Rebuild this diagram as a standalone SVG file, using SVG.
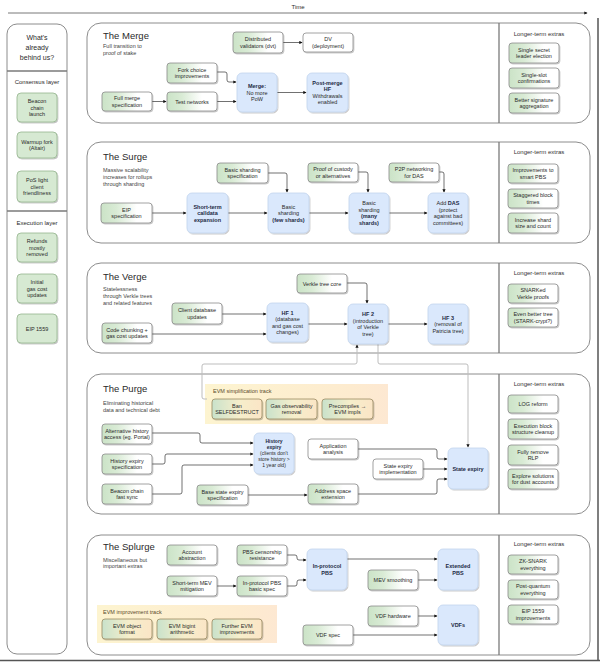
<svg xmlns="http://www.w3.org/2000/svg" width="600" height="662" viewBox="0 0 600 662">
<defs>
<style>
text{font-family:"Liberation Sans",Arial,sans-serif;fill:#2a2a2a}
.t{font-size:5.5px;text-anchor:middle}
.tb{font-size:5.5px;text-anchor:middle;font-weight:bold;fill:#1c2a44}
.ttl{font-size:9.5px}
.sub{font-size:5.5px;fill:#444}
.ext{font-size:6px;text-anchor:middle;fill:#333}
.sec{fill:#fff;stroke:#8c8c8c;stroke-width:1}
.div{stroke:#7a7a7a;stroke-width:1.3}
.ng{fill:url(#gG);stroke:#8a8a8a;stroke-width:0.8;filter:url(#sh)}
.nw{fill:#fff;stroke:#8a8a8a;stroke-width:0.8;filter:url(#sh)}
.nb{fill:#dae8fc;stroke:#c2d4ee;stroke-width:0.8;filter:url(#sh)}
.nl{fill:#d6e9d2;stroke:#94b48e;stroke-width:0.8;filter:url(#sh)}
.nt{fill:url(#gT);stroke:#9a8a63;stroke-width:0.8;filter:url(#sh)}
.trk{fill:url(#gY);stroke:none}
.c{fill:none;stroke:#333;stroke-width:0.7;marker-end:url(#ar)}
.cl{fill:none;stroke:#bdbdbd;stroke-width:1;marker-end:url(#ar)}
</style>
<linearGradient id="gG" x1="0" x2="1" y1="0" y2="0">
<stop offset="0" stop-color="#cbe3c7"/><stop offset="0.3" stop-color="#d9ebd5"/><stop offset="0.7" stop-color="#ffffff"/><stop offset="1" stop-color="#ffffff"/>
</linearGradient>
<linearGradient id="gT" x1="0" x2="1" y1="0" y2="0">
<stop offset="0" stop-color="#c9e2cb"/><stop offset="0.55" stop-color="#f6eecb"/><stop offset="1" stop-color="#fbe5c6"/>
</linearGradient>
<linearGradient id="gY" x1="0" x2="1" y1="0" y2="0">
<stop offset="0" stop-color="#fdf4d0"/><stop offset="0.8" stop-color="#fdebcf"/><stop offset="1" stop-color="#fde8d2"/>
</linearGradient>
<filter id="sh" x="-10%" y="-10%" width="130%" height="140%">
<feDropShadow dx="0.8" dy="1" stdDeviation="0.6" flood-color="#000" flood-opacity="0.25"/>
</filter>
<marker id="ar" viewBox="0 0 6 6" refX="5" refY="3" markerWidth="3.2" markerHeight="3.2" orient="auto" markerUnits="userSpaceOnUse">
<path d="M0,0 L6,3 L0,6 z" fill="#111"/>
</marker>
</defs>
<rect x="0" y="0" width="600" height="662" fill="#fff"/>
<line x1="598" y1="18" x2="598" y2="660" stroke="#555" stroke-width="1.5"/>
<line x1="0" y1="660.5" x2="600" y2="660.5" stroke="#555" stroke-width="1.5"/>

<!-- Time axis -->
<g id="time">
<text x="298" y="9" style="font-size:6px;text-anchor:middle">Time</text>
<line x1="8" y1="13" x2="587" y2="13" stroke="#555" stroke-width="0.8" marker-end="url(#ar)"/>
</g>

<!-- Left panel -->
<g id="behind">
<rect x="7" y="24" width="60" height="630" rx="10" class="sec"/>
<text style="font-size:7px;text-anchor:middle"><tspan x="37" y="40">What's</tspan><tspan x="37" y="50">already</tspan><tspan x="37" y="60">behind us?</tspan></text>
<line x1="7" y1="71" x2="67" y2="71" class="div"/>
<text x="37" y="84" style="font-size:6px;text-anchor:middle">Consensus layer</text>
<line x1="7" y1="211" x2="67" y2="211" class="div"/>
<text x="37" y="225" style="font-size:6px;text-anchor:middle">Execution layer</text>
</g>
<g id="n-beacon"><rect x="17" y="93" width="40" height="29" rx="4" class="nl"/><text class="t"><tspan x="37" y="103">Beacon</tspan><tspan x="37" y="109.5">chain</tspan><tspan x="37" y="116">launch</tspan></text></g>
<g id="n-altair"><rect x="17" y="132" width="40" height="26" rx="4" class="nl"/><text class="t"><tspan x="37" y="143.75">Warmup fork</tspan><tspan x="37" y="150.25">(Altair)</tspan></text></g>
<g id="n-poslight"><rect x="17" y="171" width="40" height="31" rx="4" class="nl"/><text class="t"><tspan x="37" y="182">PoS light</tspan><tspan x="37" y="188.5">client</tspan><tspan x="37" y="195">friendliness</tspan></text></g>
<g id="n-refunds"><rect x="17" y="233" width="40" height="29" rx="4" class="nl"/><text class="t"><tspan x="37" y="243">Refunds</tspan><tspan x="37" y="249.5">mostly</tspan><tspan x="37" y="256">removed</tspan></text></g>
<g id="n-initgas"><rect x="17" y="274" width="40" height="29" rx="4" class="nl"/><text class="t"><tspan x="37" y="284">Initial</tspan><tspan x="37" y="290.5">gas cost</tspan><tspan x="37" y="297">updates</tspan></text></g>
<g id="n-eip1559"><rect x="17" y="314" width="40" height="29" rx="4" class="nl"/><text class="t" x="37" y="330.5">EIP 1559</text></g>

<!-- Section frames -->
<g id="sec-merge">
<rect x="87" y="23" width="503" height="100" rx="14" class="sec"/>
<line x1="499" y1="23" x2="499" y2="123" class="div"/>
<text x="103" y="38.5" class="ttl">The Merge</text>
<text class="sub"><tspan x="103" y="48">Full transition to</tspan><tspan x="103" y="55">proof of stake</tspan></text>
<text x="539" y="36" class="ext">Longer-term extras</text>
</g>
<g id="sec-surge">
<rect x="87" y="142" width="503" height="101" rx="14" class="sec"/>
<line x1="499" y1="142" x2="499" y2="243" class="div"/>
<text x="103" y="159.5" class="ttl">The Surge</text>
<text class="sub"><tspan x="103" y="172">Massive scalability</tspan><tspan x="103" y="179">increases for rollups</tspan><tspan x="103" y="186">through sharding</tspan></text>
<text x="539" y="154" class="ext">Longer-term extras</text>
</g>
<g id="sec-verge">
<rect x="87" y="263" width="503" height="90" rx="14" class="sec"/>
<line x1="499" y1="263" x2="499" y2="353" class="div"/>
<text x="103" y="279.5" class="ttl">The Verge</text>
<text class="sub"><tspan x="103" y="290.5">Statelessness</tspan><tspan x="103" y="297.5">through Verkle trees</tspan><tspan x="103" y="304.5">and related features</tspan></text>
<text x="539" y="275" class="ext">Longer-term extras</text>
</g>
<g id="sec-purge">
<rect x="87" y="374" width="503" height="140" rx="14" class="sec"/>
<line x1="499" y1="374" x2="499" y2="514" class="div"/>
<text x="103" y="391.5" class="ttl">The Purge</text>
<text class="sub"><tspan x="103" y="405">Eliminating historical</tspan><tspan x="103" y="411.5">data and technical debt</tspan></text>
<text x="539" y="386" class="ext">Longer-term extras</text>
</g>
<g id="sec-splurge">
<rect x="87" y="535" width="503" height="120" rx="14" class="sec"/>
<line x1="499" y1="535" x2="499" y2="655" class="div"/>
<text x="103" y="549.5" class="ttl">The Splurge</text>
<text class="sub"><tspan x="103" y="561.5">Miscellaneous but</tspan><tspan x="103" y="568">important extras</tspan></text>
<text x="539" y="546" class="ext">Longer-term extras</text>
</g>

<!-- Track backgrounds -->
<g id="track-evm-simpl">
<rect x="205" y="384" width="183" height="40" class="trk"/>
<text x="213" y="393" style="font-size:5.5px;fill:#5a4a2a">EVM simplification track</text>
</g>
<g id="track-evm-impr">
<rect x="97" y="605" width="180" height="38" class="trk"/>
<text x="103" y="614" style="font-size:5.5px;fill:#5a4a2a">EVM improvement track</text>
</g>

<!-- Connectors -->
<g id="connectors">
<path class="c" d="M283,42.5 H302"/>
<path class="c" d="M152,101.5 H166"/>
<path class="c" d="M217,101.5 H236"/>
<path class="c" d="M217,72 H225 Q227,72 227,74 V80 Q227,82 229,82 H236"/>
<path class="c" d="M277,92.5 H306"/>

<path class="c" d="M152,213 H186"/>
<path class="c" d="M228,213 H267"/>
<path class="c" d="M309,213 H348"/>
<path class="c" d="M389,213 H427"/>
<path class="c" d="M268,173 H285 Q287,173 287,175 V192"/>
<path class="c" d="M358,172 H366 Q368,172 368,174 V192"/>
<path class="c" d="M438,172 H442 Q444,172 444,174 V192"/>

<path class="c" d="M222,314 H266"/>
<path class="c" d="M152,334 H266"/>
<path class="c" d="M308,324 H347"/>
<path class="c" d="M388,324 H427"/>
<path class="c" d="M347,283 H365 Q367,283 367,285 V303"/>

<path class="cl" d="M207,399 H204 Q202,399 202,397 V366 Q202,364 204,364 H355 Q357,364 357,362 V345"/>
<path class="cl" d="M378,344 V362 Q378,364 380,364 H466 Q468,364 468,366 V447"/>

<path class="c" d="M152,433 H198 Q200,433 200,435 V441 Q200,443 202,443 H253"/>
<path class="c" d="M152,464 H163 Q165,464 165,462 V456 Q165,454 167,454 H253"/>
<path class="c" d="M152,494 H180 Q182,494 182,492 V467 Q182,465 184,465 H253"/>
<path class="c" d="M248,495 H307"/>
<path class="c" d="M358,449 H435 Q437,449 437,451 V457 Q437,459 439,459 H447"/>
<path class="c" d="M423,469 H447"/>
<path class="c" d="M358,494 H435 Q437,494 437,492 V481 Q437,479 439,479 H447"/>

<path class="c" d="M287,555 H295 Q297,555 297,557 V558 Q297,560 299,560 H306"/>
<path class="c" d="M217,586 H236"/>
<path class="c" d="M287,586 H295 Q297,586 297,584 V582 Q297,580 299,580 H306"/>
<path class="c" d="M347,559 H437"/>
<path class="c" d="M418,580 H437"/>
<path class="c" d="M418,616 H437"/>
<path class="c" d="M353,635 H437"/>
</g>

<!-- Merge nodes -->
<g id="n-dvt"><rect x="233" y="32" width="50" height="21" rx="3" class="ng"/><text class="t"><tspan x="258" y="41.25">Distributed</tspan><tspan x="258" y="47.75">validators (dvt)</tspan></text></g>
<g id="n-dv"><rect x="303" y="33" width="50" height="19" rx="3" class="nw"/><text class="t"><tspan x="328" y="41.25">DV</tspan><tspan x="328" y="47.75">(deployment)</tspan></text></g>
<g id="n-forkchoice"><rect x="167" y="63" width="50" height="20" rx="3" class="ng"/><text class="t"><tspan x="192" y="71.75">Fork choice</tspan><tspan x="192" y="78.25">improvements</tspan></text></g>
<g id="n-fullmerge"><rect x="102" y="92" width="50" height="19" rx="3" class="ng"/><text class="t"><tspan x="127" y="100.25">Full merge</tspan><tspan x="127" y="106.75">specification</tspan></text></g>
<g id="n-testnets"><rect x="167" y="92" width="50" height="19" rx="3" class="ng"/><text class="t" x="192" y="103.5">Test networks</text></g>
<g id="n-merge"><rect x="237" y="73" width="40" height="39" rx="5" class="nb"/><text class="t"><tspan x="257" y="88" class="tb">Merge:</tspan><tspan x="257" y="94.5">No more</tspan><tspan x="257" y="101">PoW</tspan></text></g>
<g id="n-postmerge"><rect x="307" y="73" width="41" height="39" rx="5" class="nb"/><text class="t"><tspan x="327.5" y="84.75" class="tb">Post-merge</tspan><tspan x="327.5" y="91.25" class="tb">HF</tspan><tspan x="327.5" y="97.75">Withdrawals</tspan><tspan x="327.5" y="104.25">enabled</tspan></text></g>
<g id="n-ssle"><rect x="509" y="43" width="50" height="20" rx="3" class="ng"/><text class="t"><tspan x="534" y="51.75">Single secret</tspan><tspan x="534" y="58.25">leader election</tspan></text></g>
<g id="n-ssc"><rect x="509" y="68" width="50" height="20" rx="3" class="ng"/><text class="t"><tspan x="534" y="76.75">Single-slot</tspan><tspan x="534" y="83.25">confirmations</tspan></text></g>
<g id="n-sigagg"><rect x="509" y="93" width="50" height="20" rx="3" class="ng"/><text class="t"><tspan x="534" y="101.75">Better signature</tspan><tspan x="534" y="108.25">aggregation</tspan></text></g>

<!-- Surge nodes -->
<g id="n-eipspec"><rect x="101" y="203" width="51" height="20" rx="3" class="ng"/><text class="t"><tspan x="126.5" y="211.75">EIP</tspan><tspan x="126.5" y="218.25">specification</tspan></text></g>
<g id="n-calldata"><rect x="187" y="193" width="41" height="40" rx="5" class="nb"/><text class="tb"><tspan x="207.5" y="208.5">Short-term</tspan><tspan x="207.5" y="215">calldata</tspan><tspan x="207.5" y="221.5">expansion</tspan></text></g>
<g id="n-shardspec"><rect x="217" y="163" width="51" height="20" rx="3" class="ng"/><text class="t"><tspan x="242.5" y="171.75">Basic sharding</tspan><tspan x="242.5" y="178.25">specification</tspan></text></g>
<g id="n-fewshards"><rect x="268" y="193" width="41" height="40" rx="5" class="nb"/><text class="t"><tspan x="288.5" y="208.5">Basic</tspan><tspan x="288.5" y="215">sharding</tspan><tspan x="288.5" y="221.5" class="tb">(few shards)</tspan></text></g>
<g id="n-poc"><rect x="308" y="163" width="50" height="19" rx="3" class="ng"/><text class="t"><tspan x="333" y="171.25">Proof of custody</tspan><tspan x="333" y="177.75">or alternatives</tspan></text></g>
<g id="n-manyshards"><rect x="349" y="193" width="40" height="40" rx="5" class="nb"/><text class="t"><tspan x="369" y="205.25">Basic</tspan><tspan x="369" y="211.75">sharding</tspan><tspan x="369" y="218.25" class="tb">(many</tspan><tspan x="369" y="224.75" class="tb">shards)</tspan></text></g>
<g id="n-p2pdas"><rect x="389" y="163" width="50" height="19" rx="3" class="ng"/><text class="t"><tspan x="414" y="171.25">P2P networking</tspan><tspan x="414" y="177.75">for DAS</tspan></text></g>
<g id="n-das"><rect x="428" y="193" width="40" height="40" rx="5" class="nb"/><text class="t"><tspan x="448" y="205.25">Add <tspan class="tb">DAS</tspan></tspan><tspan x="448" y="211.75">(protect</tspan><tspan x="448" y="218.25">against bad</tspan><tspan x="448" y="224.75">committees)</tspan></text></g>
<g id="n-smartpbs"><rect x="508" y="164" width="50" height="19" rx="3" class="ng"/><text class="t"><tspan x="533" y="172.25">Improvements to</tspan><tspan x="533" y="178.75">smart PBS</tspan></text></g>
<g id="n-stagger"><rect x="508" y="189" width="50" height="19" rx="3" class="ng"/><text class="t"><tspan x="533" y="197.25">Staggered block</tspan><tspan x="533" y="203.75">times</tspan></text></g>
<g id="n-shardsize"><rect x="508" y="213" width="50" height="20" rx="3" class="ng"/><text class="t"><tspan x="533" y="221.75">Increase shard</tspan><tspan x="533" y="228.25">size and count</tspan></text></g>

<!-- Verge nodes -->
<g id="n-verklecore"><rect x="297" y="274" width="50" height="19" rx="3" class="ng"/><text class="t" x="322" y="285.5">Verkle tree core</text></g>
<g id="n-clientdb"><rect x="172" y="303" width="50" height="21" rx="3" class="ng"/><text class="t"><tspan x="197" y="312.25">Client database</tspan><tspan x="197" y="318.75">updates</tspan></text></g>
<g id="n-codechunk"><rect x="102" y="323" width="50" height="20" rx="3" class="ng"/><text class="t"><tspan x="127" y="331.75">Code chunking +</tspan><tspan x="127" y="338.25">gas cost updates</tspan></text></g>
<g id="n-hf1"><rect x="267" y="303" width="41" height="39" rx="5" class="nb"/><text class="t"><tspan x="287.5" y="314.75" class="tb">HF 1</tspan><tspan x="287.5" y="321.25">(database</tspan><tspan x="287.5" y="327.75">and gas cost</tspan><tspan x="287.5" y="334.25">changes)</tspan></text></g>
<g id="n-hf2"><rect x="348" y="304" width="40" height="40" rx="5" class="nb"/><text class="t"><tspan x="368" y="316.25" class="tb">HF 2</tspan><tspan x="368" y="322.75">(introduction</tspan><tspan x="368" y="329.25">of Verkle</tspan><tspan x="368" y="335.75">tree)</tspan></text></g>
<g id="n-hf3"><rect x="428" y="304" width="40" height="40" rx="5" class="nb"/><text class="t"><tspan x="448" y="319.5" class="tb">HF 3</tspan><tspan x="448" y="326">(removal of</tspan><tspan x="448" y="332.5">Patricia tree)</tspan></text></g>
<g id="n-snarkverkle"><rect x="508" y="284" width="50" height="19" rx="3" class="ng"/><text class="t"><tspan x="533" y="292.25">SNARKed</tspan><tspan x="533" y="298.75">Verkle proofs</tspan></text></g>
<g id="n-bettertree"><rect x="508" y="308" width="50" height="19" rx="3" class="ng"/><text class="t"><tspan x="533" y="316.25">Even better tree</tspan><tspan x="533" y="322.75">(STARK-crypt?)</tspan></text></g>

<!-- Purge nodes -->
<g id="n-selfdestruct"><rect x="212" y="399" width="50" height="20" rx="3" class="nt"/><text class="t"><tspan x="237" y="407.75">Ban</tspan><tspan x="237" y="414.25">SELFDESTRUCT</tspan></text></g>
<g id="n-gasobs"><rect x="266" y="399" width="51" height="20" rx="3" class="nt"/><text class="t"><tspan x="291.5" y="407.75">Gas observability</tspan><tspan x="291.5" y="414.25">removal</tspan></text></g>
<g id="n-precomp"><rect x="322" y="399" width="51" height="20" rx="3" class="nt"/><text class="t"><tspan x="347.5" y="407.75">Precompiles →</tspan><tspan x="347.5" y="414.25">EVM impls</tspan></text></g>
<g id="n-althist"><rect x="102" y="424" width="50" height="20" rx="3" class="ng"/><text class="t"><tspan x="127" y="432.75">Alternative history</tspan><tspan x="127" y="439.25">access (eg. Portal)</tspan></text></g>
<g id="n-histspec"><rect x="102" y="454" width="50" height="20" rx="3" class="ng"/><text class="t"><tspan x="127" y="462.75">History expiry</tspan><tspan x="127" y="469.25">specification</tspan></text></g>
<g id="n-fastsync"><rect x="102" y="484" width="50" height="20" rx="3" class="ng"/><text class="t"><tspan x="127" y="492.75">Beacon chain</tspan><tspan x="127" y="499.25">fast sync</tspan></text></g>
<g id="n-histexp"><rect x="254" y="433" width="40" height="41" rx="5" class="nb"/><text class="t" style="font-size:5px"><tspan x="274" y="442.5" class="tb" style="font-size:5px">History</tspan><tspan x="274" y="448.5" class="tb" style="font-size:5px">expiry</tspan><tspan x="274" y="454.5">(clients don't</tspan><tspan x="274" y="460.5">store history &gt;</tspan><tspan x="274" y="466.5">1 year old)</tspan></text></g>
<g id="n-basestate"><rect x="197" y="485" width="51" height="20" rx="3" class="ng"/><text class="t"><tspan x="222.5" y="493.75">Base state expiry</tspan><tspan x="222.5" y="500.25">specification</tspan></text></g>
<g id="n-appanalysis"><rect x="308" y="439" width="50" height="20" rx="3" class="nw"/><text class="t"><tspan x="333" y="447.75">Application</tspan><tspan x="333" y="454.25">analysis</tspan></text></g>
<g id="n-seimpl"><rect x="373" y="459" width="50" height="20" rx="3" class="nw"/><text class="t"><tspan x="398" y="467.75">State expiry</tspan><tspan x="398" y="474.25">implementation</tspan></text></g>
<g id="n-addrspace"><rect x="308" y="484" width="50" height="20" rx="3" class="ng"/><text class="t"><tspan x="333" y="492.75">Address space</tspan><tspan x="333" y="499.25">extension</tspan></text></g>
<g id="n-stateexp"><rect x="448" y="448" width="40" height="41" rx="5" class="nb"/><text class="tb" x="468" y="470.5">State expiry</text></g>
<g id="n-logreform"><rect x="508" y="395" width="50" height="18" rx="3" class="ng"/><text class="t" x="533" y="406">LOG reform</text></g>
<g id="n-blockclean"><rect x="508" y="419" width="50" height="20" rx="3" class="ng"/><text class="t"><tspan x="533" y="427.75">Execution block</tspan><tspan x="533" y="434.25">structure cleanup</tspan></text></g>
<g id="n-rlp"><rect x="508" y="445" width="50" height="20" rx="3" class="ng"/><text class="t"><tspan x="533" y="453.75">Fully remove</tspan><tspan x="533" y="460.25">RLP</tspan></text></g>
<g id="n-dust"><rect x="508" y="469" width="50" height="20" rx="3" class="ng"/><text class="t"><tspan x="533" y="477.75">Explore solutions</tspan><tspan x="533" y="484.25">for dust accounts</tspan></text></g>

<!-- Splurge nodes -->
<g id="n-aa"><rect x="167" y="545" width="50" height="20" rx="3" class="ng"/><text class="t"><tspan x="192" y="553.75">Account</tspan><tspan x="192" y="560.25">abstraction</tspan></text></g>
<g id="n-pbscr"><rect x="237" y="545" width="50" height="20" rx="3" class="ng"/><text class="t"><tspan x="262" y="553.75">PBS censorship</tspan><tspan x="262" y="560.25">resistance</tspan></text></g>
<g id="n-mevmit"><rect x="167" y="576" width="50" height="20" rx="3" class="ng"/><text class="t"><tspan x="192" y="584.75">Short-term MEV</tspan><tspan x="192" y="591.25">mitigation</tspan></text></g>
<g id="n-pbsspec"><rect x="237" y="576" width="50" height="20" rx="3" class="ng"/><text class="t"><tspan x="262" y="584.75">In-protocol PBS</tspan><tspan x="262" y="591.25">basic spec</tspan></text></g>
<g id="n-eof"><rect x="102" y="619" width="50" height="20" rx="3" class="nt"/><text class="t"><tspan x="127" y="627.75">EVM object</tspan><tspan x="127" y="634.25">format</tspan></text></g>
<g id="n-bigint"><rect x="157" y="619" width="50" height="20" rx="3" class="nt"/><text class="t"><tspan x="182" y="627.75">EVM bigint</tspan><tspan x="182" y="634.25">arithmetic</tspan></text></g>
<g id="n-furtherevm"><rect x="212" y="619" width="50" height="20" rx="3" class="nt"/><text class="t"><tspan x="237" y="627.75">Further EVM</tspan><tspan x="237" y="634.25">improvements</tspan></text></g>
<g id="n-pbs"><rect x="307" y="549" width="40" height="41" rx="5" class="nb"/><text class="tb"><tspan x="327" y="568.25">In-protocol</tspan><tspan x="327" y="574.75">PBS</tspan></text></g>
<g id="n-mevsmooth"><rect x="368" y="570" width="50" height="20" rx="3" class="ng"/><text class="t" x="393" y="582">MEV smoothing</text></g>
<g id="n-extpbs"><rect x="438" y="549" width="40" height="41" rx="5" class="nb"/><text class="tb"><tspan x="458" y="568.25">Extended</tspan><tspan x="458" y="574.75">PBS</tspan></text></g>
<g id="n-vdfhw"><rect x="368" y="606" width="50" height="20" rx="3" class="ng"/><text class="t" x="393" y="618">VDF hardware</text></g>
<g id="n-vdfspec"><rect x="303" y="625" width="50" height="20" rx="3" class="ng"/><text class="t" x="328" y="637">VDF spec</text></g>
<g id="n-vdfs"><rect x="438" y="605" width="40" height="40" rx="5" class="nb"/><text class="tb" x="458" y="627">VDFs</text></g>
<g id="n-zksnark"><rect x="508" y="555" width="50" height="19" rx="3" class="ng"/><text class="t"><tspan x="533" y="563.25">ZK-SNARK</tspan><tspan x="533" y="569.75">everything</tspan></text></g>
<g id="n-pq"><rect x="508" y="580" width="50" height="19" rx="3" class="ng"/><text class="t"><tspan x="533" y="588.25">Post-quantum</tspan><tspan x="533" y="594.75">everything</tspan></text></g>
<g id="n-1559imp"><rect x="508" y="605" width="50" height="19" rx="3" class="ng"/><text class="t"><tspan x="533" y="613.25">EIP 1559</tspan><tspan x="533" y="619.75">improvements</tspan></text></g>
</svg>
